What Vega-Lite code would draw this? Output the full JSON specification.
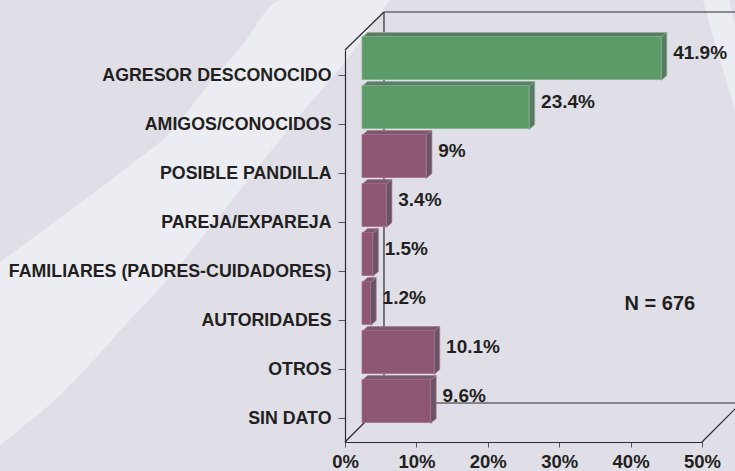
{
"$schema":"https://vega.github.io/schema/vega-lite/v6.json",
"width":735,"height":471,"padding":0,"autosize":{"type":"none"},
"background":"#e0dfe8",
"config":{"view":{"stroke":null},"font":"Liberation Sans"},
"datasets":{
"barras":[
{"categoria":"AGRESOR DESCONOCIDO","valor":41.9,"etiqueta":"41.9%","grupo":"verde","orden":0},
{"categoria":"AMIGOS/CONOCIDOS","valor":23.4,"etiqueta":"23.4%","grupo":"verde","orden":1},
{"categoria":"POSIBLE PANDILLA","valor":9,"etiqueta":"9%","grupo":"morado","orden":2},
{"categoria":"PAREJA/EXPAREJA","valor":3.4,"etiqueta":"3.4%","grupo":"morado","orden":3},
{"categoria":"FAMILIARES (PADRES-CUIDADORES)","valor":1.5,"etiqueta":"1.5%","grupo":"morado","orden":4},
{"categoria":"AUTORIDADES","valor":1.2,"etiqueta":"1.2%","grupo":"morado","orden":5},
{"categoria":"OTROS","valor":10.1,"etiqueta":"10.1%","grupo":"morado","orden":6},
{"categoria":"SIN DATO","valor":9.6,"etiqueta":"9.6%","grupo":"morado","orden":7}
],
"fondo":[
{"x":-48.32,"y":3.673,"y2":-0.061},{"x":-39.92,"y":4.571,"y2":0.959},{"x":-30.11,"y":5.653,"y2":2.49},
{"x":-23.11,"y":6.531,"y2":3.612},{"x":-20.31,"y":7.082,"y2":4.122},{"x":-14.71,"y":8.041,"y2":5.143},
{"x":-8.82,"y":9.02,"y2":6.224},{"x":-6.3,"y":9.02,"y2":6.673},{"x":0,"y":9.02,"y2":7.755},{"x":6.3,"y":9.02,"y2":9.02}
],
"franja":[
{"x":50.14,"x2":53.78,"y":9.02},{"x":51.09,"x2":54.62,"y":8.51},{"x":54.62,"x2":54.62,"y":6.776}
],
"marco":[
{"s":"a","p":0,"x":5.46,"y":0.796},{"s":"a","p":1,"x":5.46,"y":8.776},
{"s":"b","p":0,"x":5.46,"y":8.776},{"s":"b","p":1,"x":54.62,"y":8.776},
{"s":"c","p":0,"x":5.46,"y":0.796},{"s":"c","p":1,"x":54.62,"y":0.796},
{"s":"d","p":0,"x":0,"y":8},{"s":"d","p":1,"x":5.46,"y":8.776},
{"s":"e","p":0,"x":0,"y":0},{"s":"e","p":1,"x":5.46,"y":0.796},
{"s":"f","p":0,"x":50,"y":0},{"s":"f","p":1,"x":55.46,"y":0.796}
],
"nota":[{"texto":"N = 676","x":44.1,"y":2.82}]
},
"resolve":{"scale":{"x":"independent","y":"independent","fill":"independent","stroke":"independent"}},
"layer":[
{"data":{"name":"fondo"},"mark":{"type":"area","color":"#ecedf2","orient":"vertical","interpolate":"monotone"},
 "encoding":{"x":{"field":"x","type":"quantitative","axis":null,"scale":{"domain":[0,50],"range":[345,702],"nice":false,"zero":false}},
 "y":{"field":"y","type":"quantitative","axis":null,"scale":{"domain":[0,8],"range":[442,50],"nice":false,"zero":false}},
 "y2":{"field":"y2"}}},
{"data":{"name":"franja"},"mark":{"type":"area","color":"#ecedf2","orient":"horizontal"},
 "encoding":{"y":{"field":"y","type":"quantitative","axis":null,"scale":{"domain":[0,8],"range":[442,50],"nice":false,"zero":false}},
 "x":{"field":"x","type":"quantitative","axis":null,"scale":{"domain":[0,50],"range":[345,702],"nice":false,"zero":false}},
 "x2":{"field":"x2"}}},
{"data":{"name":"marco"},"mark":{"type":"line","color":"#2b2a2c","strokeWidth":1.2},
 "encoding":{"x":{"field":"x","type":"quantitative","axis":null,"scale":{"domain":[0,50],"range":[345,702],"nice":false,"zero":false}},
 "y":{"field":"y","type":"quantitative","axis":null,"scale":{"domain":[0,8],"range":[442,50],"nice":false,"zero":false}},
 "detail":{"field":"s"},"order":{"field":"p"}}},
{"data":{"name":"barras"},"mark":{"type":"point","opacity":0},
 "encoding":{
 "x":{"field":"valor","type":"quantitative","scale":{"domain":[0,50],"range":[345,702],"nice":false,"zero":false},
  "axis":{"zindex":1,"orient":"bottom","offset":-29,"values":[0,10,20,30,40,50],"labelExpr":"datum.value+'%'","title":null,"grid":false,"domainColor":"#2b2a2c","domainWidth":1.2,"tickColor":"#555","tickSize":5,"tickWidth":1,"labelFont":"Liberation Sans","labelFontWeight":"bold","labelFontSize":18.5,"labelColor":"#231f20","labelPadding":5,"labelBaseline":"top","labelOverlap":false,"labelFlush":false}},
 "y":{"field":"categoria","type":"nominal","sort":{"field":"orden"},"scale":{"range":[50,442],"paddingInner":0,"paddingOuter":0},
  "axis":{"zindex":1,"orient":"left","offset":-345,"title":null,"grid":false,"domainColor":"#2b2a2c","domainWidth":1.2,"tickColor":"#555","tickSize":7,"tickWidth":1,"labelFont":"Liberation Sans","labelFontWeight":"bold","labelFontSize":17.8,"labelColor":"#231f20","labelPadding":7,"labelOffset":1,"labelLimit":400,"labelOverlap":false}}}},
{"data":{"name":"barras"},
 "transform":[{"calculate":"0","as":"a"},{"calculate":"1","as":"b"},{"fold":["a","b"],"as":["k","e"]},
  {"calculate":"datum.e*0.79","as":"x0"},{"calculate":"datum.valor+datum.e*0.79","as":"x1"},{"calculate":"7.918-datum.orden+datum.e*0.102","as":"yy"}],
 "mark":{"type":"area","orient":"horizontal","strokeWidth":0.7},
 "encoding":{"x":{"field":"x0","type":"quantitative","axis":null,"scale":{"domain":[0,50],"range":[362,719],"nice":false,"zero":false}},
 "x2":{"field":"x1"},
 "y":{"field":"yy","type":"quantitative","axis":null,"scale":{"domain":[0,8],"range":[425.5,33.5],"nice":false,"zero":false}},
 "detail":{"field":"categoria"},
 "fill":{"field":"grupo","type":"nominal","legend":null,"scale":{"domain":["verde","morado"],"range":["#5f7a66","#7a5a6d"]}},
 "stroke":{"field":"grupo","type":"nominal","legend":null,"scale":{"domain":["verde","morado"],"range":["#7fb48c","#a8788f"]}}}},
{"data":{"name":"barras"},
 "transform":[{"calculate":"0","as":"a"},{"calculate":"1","as":"b"},{"fold":["a","b"],"as":["k","e"]},
  {"calculate":"datum.valor+datum.e*0.79","as":"xx"},{"calculate":"7.918-datum.orden+datum.e*0.102","as":"y1"},{"calculate":"7.041-datum.orden+datum.e*0.102","as":"y0"}],
 "mark":{"type":"area","orient":"vertical","strokeWidth":0.7},
 "encoding":{"x":{"field":"xx","type":"quantitative","axis":null,"scale":{"domain":[0,50],"range":[362,719],"nice":false,"zero":false}},
 "y":{"field":"y1","type":"quantitative","axis":null,"scale":{"domain":[0,8],"range":[425.5,33.5],"nice":false,"zero":false}},
 "y2":{"field":"y0"},
 "detail":{"field":"categoria"},
 "fill":{"field":"grupo","type":"nominal","legend":null,"scale":{"domain":["verde","morado"],"range":["#5a7863","#685465"]}},
 "stroke":{"field":"grupo","type":"nominal","legend":null,"scale":{"domain":["verde","morado"],"range":["#7fb48c","#a8788f"]}}}},
{"data":{"name":"barras"},"mark":{"type":"bar","strokeWidth":0.8},
 "encoding":{"x":{"field":"valor","type":"quantitative","axis":null,"scale":{"domain":[0,50],"range":[362,719],"nice":false,"zero":false}},
 "x2":{"datum":0},
 "y":{"field":"categoria","type":"nominal","sort":{"field":"orden"},"axis":null,"scale":{"range":[33.5,425.5],"paddingInner":0.122,"paddingOuter":0.061}},
 "fill":{"field":"grupo","type":"nominal","legend":null,"scale":{"domain":["verde","morado"],"range":["#5c9b68","#8d5672"]}},
 "stroke":{"field":"grupo","type":"nominal","legend":null,"scale":{"domain":["verde","morado"],"range":["#7fb48c","#a8708d"]}}}},
{"data":{"name":"barras"},"mark":{"type":"text","align":"left","baseline":"middle","dx":12,"dy":-5,"font":"Liberation Sans","fontWeight":"bold","fontSize":19,"color":"#231f20"},
 "encoding":{"x":{"field":"valor","type":"quantitative","axis":null,"scale":{"domain":[0,50],"range":[362,719],"nice":false,"zero":false}},
 "y":{"field":"categoria","type":"nominal","sort":{"field":"orden"},"axis":null,"scale":{"range":[33.5,425.5],"paddingInner":0.122,"paddingOuter":0.061}},
 "text":{"field":"etiqueta"}}},
{"data":{"name":"nota"},"mark":{"type":"text","align":"center","baseline":"middle","font":"Liberation Sans","fontWeight":"bold","fontSize":20,"color":"#231f20"},
 "encoding":{"x":{"field":"x","type":"quantitative","axis":null,"scale":{"domain":[0,50],"range":[345,702],"nice":false,"zero":false}},
 "y":{"field":"y","type":"quantitative","axis":null,"scale":{"domain":[0,8],"range":[442,50],"nice":false,"zero":false}},
 "text":{"field":"texto"}}}
]
}
